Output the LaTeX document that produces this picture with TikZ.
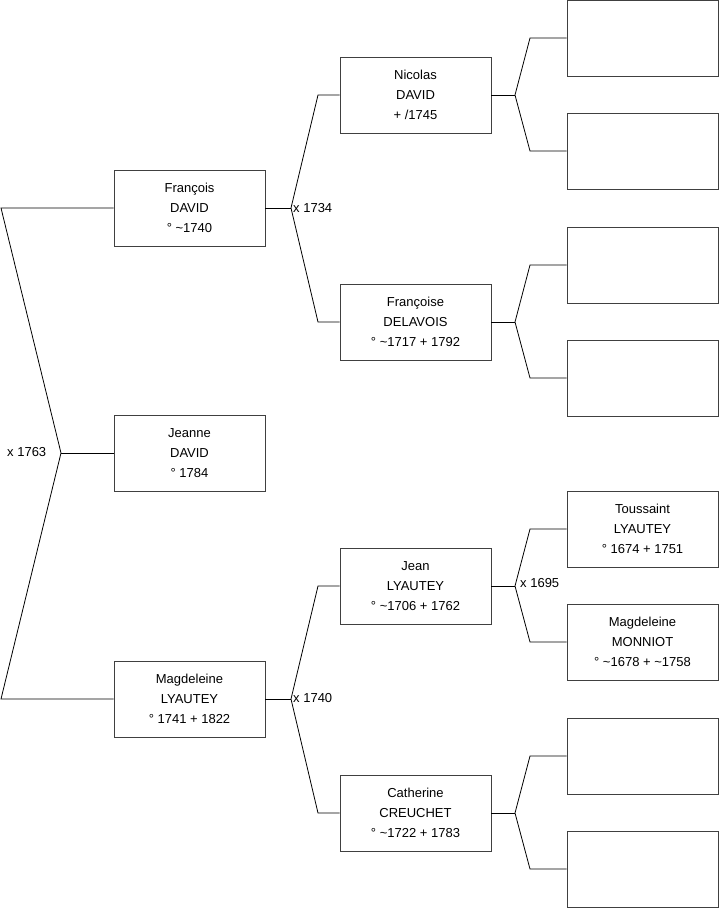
\documentclass[tikz,border=0pt]{standalone}
\usepackage{fontspec}
\setmainfont{Liberation Sans}
\begin{document}
\begin{tikzpicture}[x=1pt,y=-1pt,
  person/.style={draw=black!75,line width=0.9pt,minimum width=151pt,minimum height=76pt,inner sep=0pt,
    align=center,font=\fontsize{13}{20}\selectfont,fill=white},
  link/.style={draw=black,line width=0.8pt},
  lbl/.style={font=\fontsize{13}{15}\selectfont,inner sep=0pt}]
\useasboundingbox (0,0) rectangle (719,908);
% column 1
\node[person] (f) at (189.5,208) {François\\DAVID\\° \textasciitilde1740};
\node[person] (je) at (189.5,453) {Jeanne\\DAVID\\° 1784};
\node[person] (m) at (189.5,699) {Magdeleine\\LYAUTEY\\° 1741 + 1822};
% column 2
\node[person] (n) at (415.5,95) {Nicolas\\DAVID\\+ /1745};
\node[person] (fd) at (415.5,322) {Françoise\\DELAVOIS\\° \textasciitilde1717 + 1792};
\node[person] (j) at (415.5,586) {Jean\\LYAUTEY\\° \textasciitilde1706 + 1762};
\node[person] (c) at (415.5,813) {Catherine\\CREUCHET\\° \textasciitilde1722 + 1783};
% column 3
\node[person] (r1) at (642.5,38) {};
\node[person] (r2) at (642.5,151) {};
\node[person] (r3) at (642.5,265) {};
\node[person] (r4) at (642.5,378) {};
\node[person] (t) at (642.5,529) {Toussaint\\LYAUTEY\\° 1674 + 1751};
\node[person] (mm) at (642.5,642) {Magdeleine\\MONNIOT\\° \textasciitilde1678 + \textasciitilde1758};
\node[person] (r7) at (642.5,756) {};
\node[person] (r8) at (642.5,869) {};
% junctions
\coordinate (l1) at (1,208);
\coordinate (l2) at (1,699);
\coordinate (j1) at (61,453);
\coordinate (j2) at (291,208);
\coordinate (j2a) at (318,95);
\coordinate (j2b) at (318,322);
\coordinate (j3) at (291,699);
\coordinate (j3a) at (318,586);
\coordinate (j3b) at (318,813);
\coordinate (k1) at (515,95);
\coordinate (k1a) at (530,38);
\coordinate (k1b) at (530,151);
\coordinate (k2) at (515,322);
\coordinate (k2a) at (530,265);
\coordinate (k2b) at (530,378);
\coordinate (k3) at (515,586);
\coordinate (k3a) at (530,529);
\coordinate (k3b) at (530,642);
\coordinate (k4) at (515,813);
\coordinate (k4a) at (530,756);
\coordinate (k4b) at (530,869);
% connectors
\draw[link] (f.west) -- (l1) -- (j1) -- (l2) -- (m.west);
\draw[link] (j1) -- (je.west);
\draw[link] (f.east) -- (j2);
\draw[link] (n.west) -- (j2a) -- (j2) -- (j2b) -- (fd.west);
\draw[link] (m.east) -- (j3);
\draw[link] (j.west) -- (j3a) -- (j3) -- (j3b) -- (c.west);
\draw[link] (n.east) -- (k1);
\draw[link] (r1.west) -- (k1a) -- (k1) -- (k1b) -- (r2.west);
\draw[link] (fd.east) -- (k2);
\draw[link] (r3.west) -- (k2a) -- (k2) -- (k2b) -- (r4.west);
\draw[link] (j.east) -- (k3);
\draw[link] (t.west) -- (k3a) -- (k3) -- (k3b) -- (mm.west);
\draw[link] (c.east) -- (k4);
\draw[link] (r7.west) -- (k4a) -- (k4) -- (k4b) -- (r8.west);
% labels
\node[lbl,anchor=west] (x1763) at (7,452) {x 1763};
\node[lbl,anchor=west] (x1734) at (293,208) {x 1734};
\node[lbl,anchor=west] (x1740) at (293,698) {x 1740};
\node[lbl,anchor=west] (x1695) at (520,583) {x 1695};
\end{tikzpicture}
\end{document}
